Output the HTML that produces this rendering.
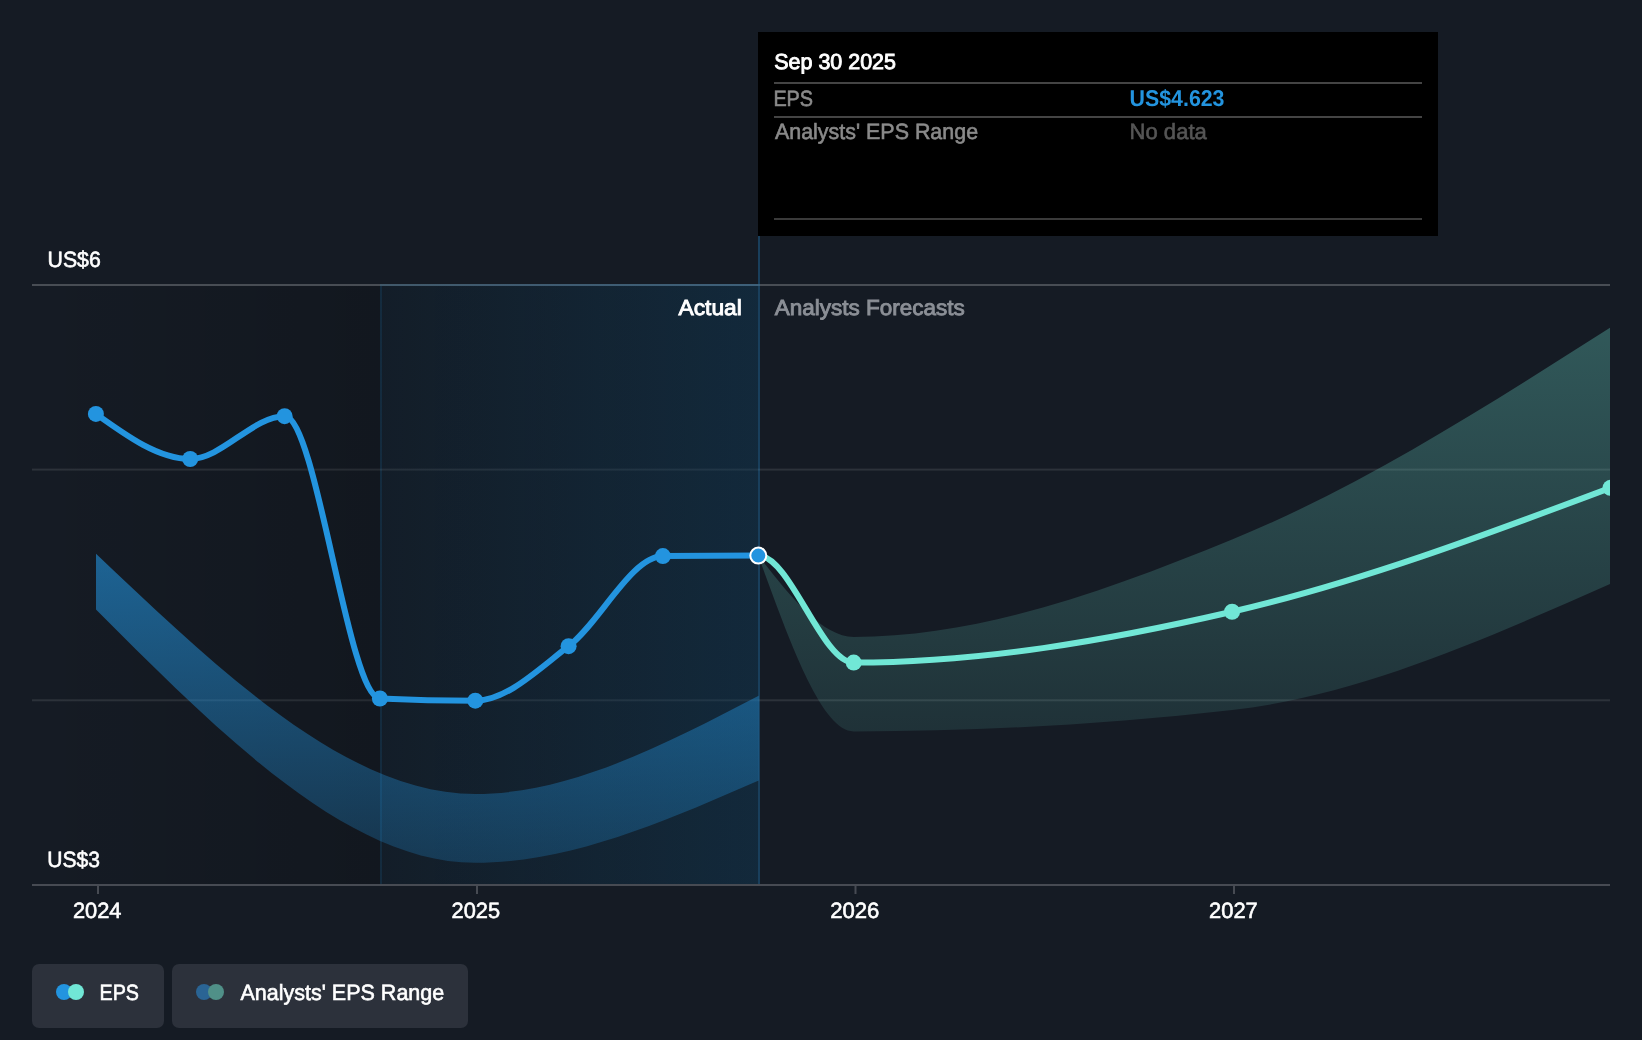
<!DOCTYPE html>
<html lang="en">
<head>
<meta charset="utf-8">
<title>EPS – Earnings per share growth forecast</title>
<style>
html,body{margin:0;padding:0;background:#151b24;}
body{width:1642px;height:1040px;overflow:hidden;font-family:"Liberation Sans",Arial,sans-serif;}
svg{display:block;will-change:transform;}
</style>
</head>
<body>
<svg role="img" aria-label="Earnings per share growth chart" width="1642" height="1040" viewBox="0 0 1642 1040" font-family="'Liberation Sans', Arial, sans-serif" text-rendering="geometricPrecision">
<defs>
<linearGradient id="gPast" x1="0" y1="0" x2="1" y2="0">
<stop offset="0" stop-color="#000" stop-opacity="0"/>
<stop offset="1" stop-color="#000" stop-opacity="0.30"/>
</linearGradient>
<linearGradient id="gTTM" x1="0" y1="0" x2="1" y2="0">
<stop offset="0" stop-color="#2394df" stop-opacity="0.048"/>
<stop offset="1" stop-color="#2394df" stop-opacity="0.17"/>
</linearGradient>
<linearGradient id="gBlueBand" x1="0" y1="0" x2="0" y2="1">
<stop offset="0" stop-color="#2394df" stop-opacity="0.60"/>
<stop offset="1" stop-color="#2394df" stop-opacity="0.235"/>
</linearGradient>
<linearGradient id="gTealBand" x1="0" y1="0" x2="0" y2="1">
<stop offset="0" stop-color="#71e7d6" stop-opacity="0.30"/>
<stop offset="1" stop-color="#71e7d6" stop-opacity="0.11"/>
</linearGradient>
<clipPath id="plotClip"><rect x="32" y="236" width="1578" height="650"/></clipPath>
</defs>
<rect width="1642" height="1040" fill="#151b24"/>
<g id="grid">
<rect x="32" y="284" width="1578" height="2" fill="#fff" fill-opacity="0.22"/>
<rect x="32" y="468.6" width="1578" height="2" fill="#fff" fill-opacity="0.1"/>
<rect x="32" y="699.3" width="1578" height="2" fill="#fff" fill-opacity="0.1"/>
</g>
<g id="shading">
<rect x="32" y="286" width="726" height="598" fill="url(#gPast)"/>
<rect x="380" y="284" width="378" height="600" fill="url(#gTTM)"/>
<rect x="380" y="284" width="2" height="600" fill="#2394df" fill-opacity="0.12"/>
<rect x="382" y="284" width="376" height="2" fill="#2394df" fill-opacity="0.12"/>
<rect x="758" y="236" width="2" height="648" fill="#2394df" fill-opacity="0.3"/>
</g>
<g id="xaxis" fill="#474b53">
<rect x="32" y="884" width="1578" height="2"/>
<rect x="97" y="886" width="2" height="8"/>
<rect x="476" y="886" width="2" height="8"/>
<rect x="854.5" y="886" width="2" height="8"/>
<rect x="1233" y="886" width="2" height="8"/>
</g>
<g id="bands" clip-path="url(#plotClip)">
<path d="M96,553.8C222.43,673.9 348.87,794 475.3,794C569.77,794 664.23,744.85 758.7,695.7L758.7,780.4C664.23,821.6 569.77,862.8 475.3,862.8C348.87,862.8 222.43,736.2 96,609.6Z" fill="url(#gBlueBand)"/>
<path d="M758.3,555.6C790.1,596.25 821.9,636.9 853.7,636.9C979.83,636.9 1105.97,591.18 1232.1,539.6C1358.23,488.02 1484.37,407.71 1610.5,327.4L1610.5,583.7C1484.37,639.72 1358.23,695.73 1232.1,710C1105.97,724.27 979.83,731.4 853.7,731.4C821.9,731.4 790.1,643.5 758.3,555.6Z" fill="url(#gTealBand)"/>
</g>
<g id="series" clip-path="url(#plotClip)" fill="none" stroke-width="6" stroke-linecap="round" stroke-linejoin="round">
<path d="M758.3,555.6C790.1,555.6 821.9,662.6 853.7,662.6C979.83,662.6 1105.97,640.88 1232.1,611.75C1358.23,582.62 1484.37,535.21 1610.5,487.8" stroke="#71e7d6"/>
<path d="M95.9,413.9C127.33,436.45 158.77,459 190.2,459C221.67,459 253.13,416.2 284.6,416.2C316.37,416.2 348.13,697.03 379.9,698.5C411.7,699.97 443.5,700.7 475.3,700.7C506.4,700.7 537.5,670.11 568.6,646.2C600.03,622.03 631.47,556.43 662.9,556.1C694.7,555.77 726.5,555.6 758.3,555.6" stroke="#2394df"/>
</g>
<g id="markers" clip-path="url(#plotClip)">
<circle cx="853.7" cy="662.6" r="8" fill="#71e7d6"/>
<circle cx="1232.1" cy="611.75" r="8" fill="#71e7d6"/>
<circle cx="1610.5" cy="487.8" r="8" fill="#71e7d6"/>
<circle cx="95.9" cy="413.9" r="8" fill="#2394df"/>
<circle cx="190.2" cy="459" r="8" fill="#2394df"/>
<circle cx="284.6" cy="416.2" r="8" fill="#2394df"/>
<circle cx="379.9" cy="698.5" r="8" fill="#2394df"/>
<circle cx="475.3" cy="700.7" r="8" fill="#2394df"/>
<circle cx="568.6" cy="646.2" r="8" fill="#2394df"/>
<circle cx="662.9" cy="556.1" r="8" fill="#2394df"/>
<circle cx="758.3" cy="555.6" r="8" fill="#2394df" stroke="#fff" stroke-width="2"/>
</g>
<g id="labels">
<text x="47.56" y="267.2" font-size="22.08" fill="#fff" textLength="53.16" lengthAdjust="spacingAndGlyphs" stroke="#fff" stroke-width="0.6" paint-order="stroke">US$6</text>
<text x="47.33" y="867" font-size="22.08" fill="#fff" textLength="52.74" lengthAdjust="spacingAndGlyphs" stroke="#fff" stroke-width="0.6" paint-order="stroke">US$3</text>
<text x="72.9" y="917.7" font-size="22.08" fill="#fff" textLength="48.57" lengthAdjust="spacingAndGlyphs" stroke="#fff" stroke-width="0.6" paint-order="stroke">2024</text>
<text x="451.55" y="917.7" font-size="22.08" fill="#fff" textLength="48.48" lengthAdjust="spacingAndGlyphs" stroke="#fff" stroke-width="0.6" paint-order="stroke">2025</text>
<text x="830.15" y="917.7" font-size="22.08" fill="#fff" textLength="49.19" lengthAdjust="spacingAndGlyphs" stroke="#fff" stroke-width="0.6" paint-order="stroke">2026</text>
<text x="1209.07" y="917.7" font-size="22.08" fill="#fff" textLength="48.66" lengthAdjust="spacingAndGlyphs" stroke="#fff" stroke-width="0.6" paint-order="stroke">2027</text>
<text x="678.46" y="315.35" font-size="21.72" fill="#fff" textLength="63.36" lengthAdjust="spacingAndGlyphs" stroke="#fff" stroke-width="0.9" paint-order="stroke">Actual</text>
<text x="774.65" y="315.35" font-size="21.72" fill="#8b8f96" textLength="190.09" lengthAdjust="spacingAndGlyphs" stroke="#8b8f96" stroke-width="0.9" paint-order="stroke">Analysts Forecasts</text>
</g>
<g id="tooltip">
<rect x="758" y="32" width="680" height="204" fill="#000"/>
<rect x="774" y="82" width="648" height="2" fill="#444"/>
<rect x="774" y="116" width="648" height="2" fill="#444"/>
<rect x="774" y="218" width="648" height="2" fill="#3a3a3a"/>
<text x="774.25" y="69.35" font-size="21.72" fill="#fff" textLength="121.74" lengthAdjust="spacingAndGlyphs" stroke="#fff" stroke-width="0.9" paint-order="stroke">Sep 30 2025</text>
<text x="773.39" y="105.6" font-size="22.08" fill="#8a8a8a" textLength="39.73" lengthAdjust="spacingAndGlyphs" stroke="#8a8a8a" stroke-width="0.6" paint-order="stroke">EPS</text>
<text x="1129.56" y="105.7" font-size="22.8" fill="#2394df" font-weight="700" textLength="94.96" lengthAdjust="spacingAndGlyphs">US$4.623</text>
<text x="774.97" y="139.2" font-size="22.08" fill="#8a8a8a" textLength="203.09" lengthAdjust="spacingAndGlyphs" stroke="#8a8a8a" stroke-width="0.6" paint-order="stroke">Analysts&#39; EPS Range</text>
<text x="1129.56" y="139.4" font-size="22.08" fill="#555" textLength="77.25" lengthAdjust="spacingAndGlyphs" stroke="#555" stroke-width="0.6" paint-order="stroke">No data</text>
</g>
<g id="legend">
<rect x="32" y="964" width="132" height="64" rx="7" fill="#2c313b"/>
<circle cx="64" cy="992" r="8" fill="#2394df"/>
<circle cx="76" cy="992" r="8" fill="#71e7d6"/>
<text x="99.55" y="999.8" font-size="22.08" fill="#fff" textLength="39.5" lengthAdjust="spacingAndGlyphs" stroke="#fff" stroke-width="0.6" paint-order="stroke">EPS</text>
<rect x="172" y="964" width="296" height="64" rx="7" fill="#2c313b"/>
<circle cx="204" cy="992" r="8" fill="#2a6494"/>
<circle cx="216" cy="992" r="8" fill="#509088"/>
<text x="240.52" y="999.8" font-size="22.08" fill="#fff" textLength="203.73" lengthAdjust="spacingAndGlyphs" stroke="#fff" stroke-width="0.6" paint-order="stroke">Analysts&#39; EPS Range</text>
</g>
</svg>
</body>
</html>
